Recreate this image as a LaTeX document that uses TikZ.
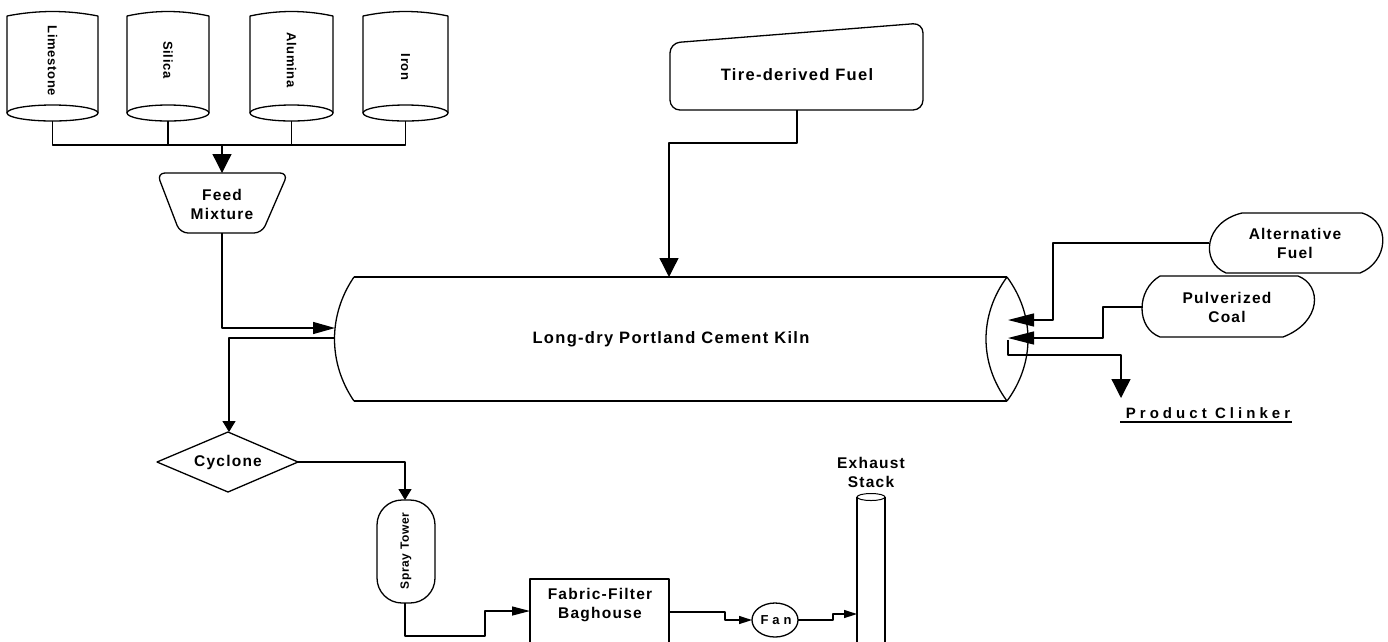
\documentclass[tikz,border=0pt]{standalone}
\usepackage{fontspec}
\setmainfont{Liberation Sans}[LetterSpace=8]
\usetikzlibrary{arrows.meta,calc}
\tikzset{
  ln/.style={line width=1.3pt, line join=round},
  bigflow/.style={ln, -{Triangle[length=19pt,width=19pt]}},
  kflow/.style={ln, -{Triangle[length=22pt,width=12pt]}},
  rflow/.style={ln, -{Triangle[length=26pt,width=13pt]}},
  dflow/.style={ln, -{Triangle[length=11pt,width=13pt]}},
  tflow/.style={ln, -{Triangle[length=18pt,width=9pt]}},
  fflow/.style={ln, -{Triangle[length=13pt,width=8pt]}},
  lbl/.style={font=\bfseries\fontsize{15.5}{19}\selectfont, align=center, inner sep=0pt},
  slbl/.style={font=\bfseries\fontsize{13}{15}\selectfont\addfontfeatures{LetterSpace=5}, inner sep=0pt},
}
\begin{document}
\begin{tikzpicture}[x=1pt,y=-1pt]
\clip (0,0) rectangle (1388,641);
\useasboundingbox (0,0) rectangle (1388,641);

% raw material drums
\foreach \xl/\xr/\nm/\txt/\ty in {7/98/lime/Limestone/61, 127/209/silica/Silica/60, 250/333/alumina/Alumina/60, 363/448/iron/Iron/67}{
  \draw[ln] (\xl,113) -- (\xl,16) .. controls ({\xl+(\xr-\xl)/3},10) and ({\xr-(\xr-\xl)/3},10) .. (\xr,16) -- (\xr,113);
  \draw[ln] ({(\xl+\xr)/2},113) ellipse [x radius={(\xr-\xl)/2}, y radius=8];
  \node[slbl, rotate=-90] (\nm) at ({(\xl+\xr)/2},\ty) {\txt};
  \coordinate (\nm-o) at ({(\xl+\xr)/2},121);
}
\coordinate (bus) at (222,145);
\draw[ln] (lime-o) -- (lime-o |- bus) -- (iron-o |- bus) -- (iron-o);
\draw[ln] (silica-o) -- (silica-o |- bus);
\draw[ln] (alumina-o) -- (alumina-o |- bus);

% feed mixture
\draw[ln, rounded corners=8] (157,173) -- (288,173) -- (262,233) -- (180,233) -- cycle;
\node[lbl] (feed) at (222,204) {Feed\\Mixture};
\coordinate (feed-in) at (222,173);
\coordinate (feed-out) at (222,233);
\draw[bigflow] (bus) -- (feed-in);

% tire-derived fuel
\draw[ln, rounded corners=10] (670,110) -- (670,43) -- (923,23) -- (923,110) -- cycle;
\node[lbl, font=\bfseries\fontsize{16.5}{19}\selectfont] (tire) at (797,75) {Tire-derived Fuel};
\coordinate (tire-out) at (797,110);

% kiln
\draw[ln] (354,277) -- (1007,277);
\draw[ln] (354,401) -- (1007,401);
\draw[ln] (354,277) .. controls (328,315) and (328,363) .. (354,401);
\draw[ln] (1007,277) .. controls (979,315) and (979,363) .. (1007,401);
\draw[ln] (1007,277) .. controls (1035,315) and (1035,363) .. (1007,401);
\node[lbl, font=\bfseries\fontsize{16.5}{19}\selectfont] (kiln) at (671,339) {Long-dry Portland Cement Kiln};
\coordinate (kiln-feed) at (335,328);
\coordinate (kiln-gas) at (334,338);
\coordinate (kiln-top) at (669,277);
\coordinate (kiln-alt) at (1008,320);
\coordinate (kiln-coal) at (1008,338);
\coordinate (kiln-prod) at (1008,340);

\draw[kflow] (feed-out) |- (kiln-feed);
\draw[bigflow] (tire-out) -- (797,143) -| (kiln-top);

% alternative fuel
\draw[ln] (1242,213) -- (1362,213) .. controls (1392,222) and (1388,262) .. (1360,273) -- (1226,273) .. controls (1200,262) and (1204,222) .. (1242,213);
\node[lbl] (alt) at (1295,243) {Alternative\\Fuel};
\coordinate (alt-out) at (1209,243);

% pulverized coal
\draw[ln] (1160,276) -- (1298,276) .. controls (1322,285) and (1322,322) .. (1283,337) -- (1160,337) .. controls (1136,328) and (1136,290) .. (1160,276);
\node[lbl] (coal) at (1227,307) {Pulverized\\Coal};
\coordinate (coal-out) at (1143,307);

\draw[rflow] (alt-out) -- (1053,243) -- (1053,320) -- (kiln-alt);
\draw[rflow] (coal-out) -- (1103,307) -- (1103,338) -- (kiln-coal);

% product clinker
\node[lbl, font=\bfseries\fontsize{15}{18}\selectfont\addfontfeatures{LetterSpace=27}] (clinker) at (1208,413) {Product Clinker};
\draw[line width=1.1pt] (1120,422) -- (1292,422);
\draw[bigflow] (kiln-prod) -- (1008,355) -- (1121,355) -- (1121,398);

% cyclone
\draw[ln] (157,462) -- (228,432) -- (298,462) -- (228,492) -- cycle;
\node[lbl] (cyclone) at (228,462) {Cyclone};
\draw[dflow] (kiln-gas) -- (229,338) -- (229,432);

% spray tower
\draw[ln, rounded corners=25] (377,500) rectangle (435,603);
\node[slbl, rotate=90, font=\bfseries\fontsize{12}{14}\selectfont\addfontfeatures{LetterSpace=5}] (spray) at (406,551) {Spray Tower};
\draw[dflow] (298,462) -- (405,462) -- (405,500);

% baghouse
\draw[ln] (530,660) -- (530,579) -- (669,579) -- (669,660);
\node[lbl] (bag) at (600,605) {Fabric-Filter\\Baghouse};
\draw[tflow] (405,603) -- (405,636) -- (485,636) -- (485,611) -- (530,611);

% fan
\draw[ln] (775,620) ellipse [x radius=23, y radius=17];
\node[lbl, font=\bfseries\fontsize{13}{15}\selectfont\addfontfeatures{LetterSpace=30}] (fan) at (776,620) {Fan};
\draw[fflow] (669,612) -- (725,612) -- (725,620) -- (752,620);

% exhaust stack
\draw[ln] (857,660) -- (857,497);
\draw[ln] (885,660) -- (885,497);
\draw[line width=1pt] (871,497) ellipse [x radius=14, y radius=3.5];
\node[lbl] (stack) at (871,472) {Exhaust\\Stack};
\draw[fflow] (798,620) -- (833,620) -- (833,614) -- (857,614);
\end{tikzpicture}
\end{document}
